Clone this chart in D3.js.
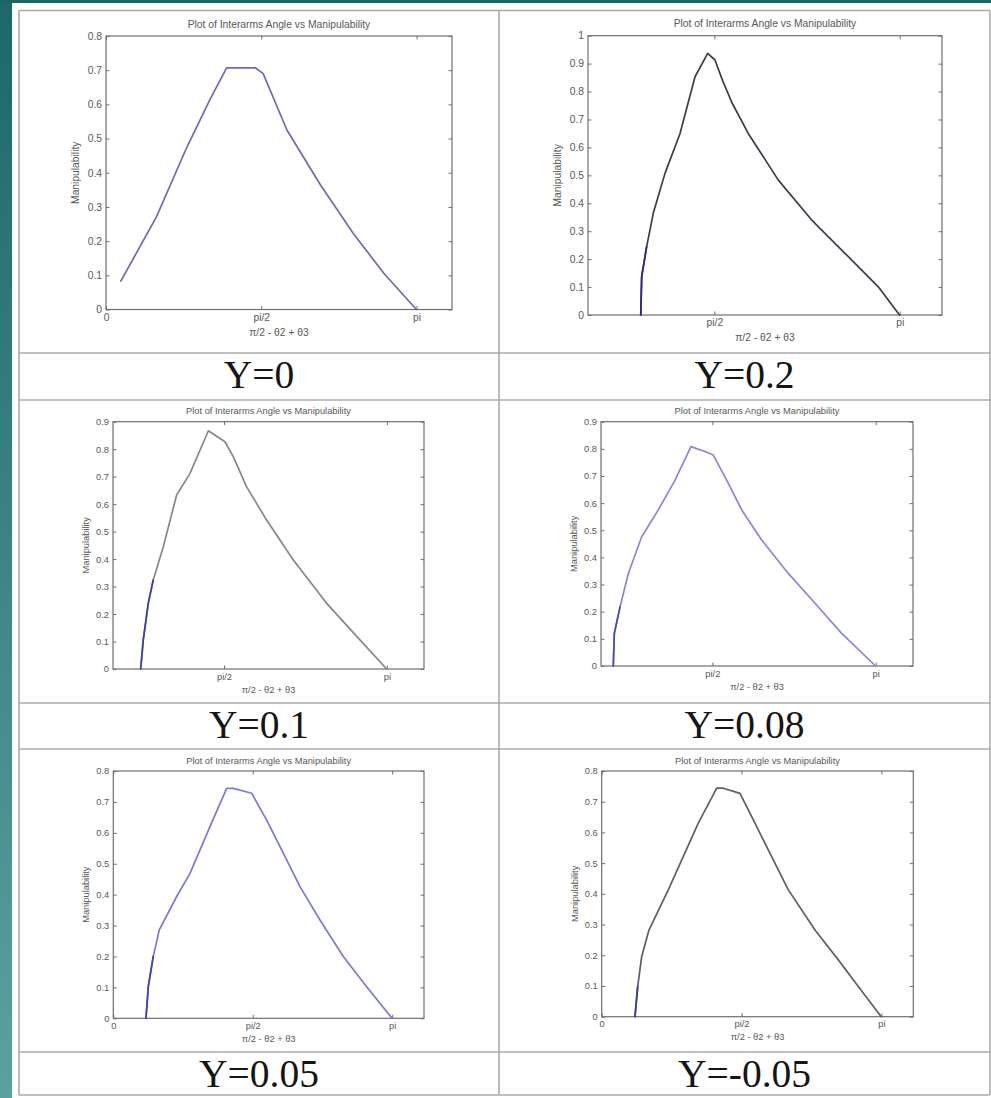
<!DOCTYPE html>
<html>
<head>
<meta charset="utf-8">
<script src="https://cdn.jsdelivr.net/npm/d3@7"></script>
<style>
  html, body { margin: 0; padding: 0; background: #ffffff; }
  svg { display: block; }
</style>
</head>
<body>
<svg id="sheet" width="991" height="1098"></svg>
<script>
// ---- data: inter-arm angle (rad) vs manipulability, one curve per Y offset ----
const panelLabels = ["Y=0", "Y=0.2", "Y=0.1", "Y=0.08", "Y=0.05", "Y=-0.05"];

const angle_Y0 = [0.15, 0.51, 0.82, 1.05, 1.22, 1.51, 1.59, 1.83, 2.17, 2.50, 2.81, 3.14];
const manip_Y0 = [0.083, 0.271, 0.476, 0.613, 0.707, 0.707, 0.69, 0.525, 0.364, 0.223, 0.106, 0.0];

const angle_Y020 = [0.947, 0.955, 0.997, 1.053, 1.153, 1.28, 1.407, 1.514, 1.576, 1.64, 1.72, 1.858, 2.113, 2.396, 2.678, 2.96, 3.14];
const manip_Y020 = [0, 0.137, 0.245, 0.364, 0.508, 0.65, 0.853, 0.937, 0.913, 0.84, 0.76, 0.65, 0.483, 0.34, 0.221, 0.101, 0];

const angle_Y010 = [0.767, 0.792, 0.84, 0.888, 0.985, 1.114, 1.243, 1.42, 1.58, 1.66, 1.789, 1.982, 2.239, 2.561, 2.882, 3.14];
const manip_Y010 = [0, 0.106, 0.239, 0.324, 0.445, 0.633, 0.712, 0.867, 0.827, 0.773, 0.663, 0.542, 0.397, 0.239, 0.106, 0];

const angle_Y008 = [0.618, 0.628, 0.683, 0.763, 0.891, 1.051, 1.212, 1.365, 1.5, 1.58, 1.724, 1.853, 2.045, 2.301, 2.558, 2.814, 3.14];
const manip_Y008 = [0, 0.12, 0.218, 0.341, 0.476, 0.575, 0.685, 0.808, 0.79, 0.777, 0.673, 0.575, 0.464, 0.341, 0.231, 0.12, 0];

const angle_Y005 = [0.368, 0.394, 0.45, 0.518, 0.714, 0.864, 1.089, 1.277, 1.352, 1.559, 1.728, 1.915, 2.103, 2.328, 2.591, 2.854, 3.14];
const manip_Y005 = [0, 0.102, 0.2, 0.286, 0.394, 0.469, 0.62, 0.744, 0.744, 0.728, 0.641, 0.534, 0.426, 0.318, 0.2, 0.102, 0];

const angle_Ym005 = [0.374, 0.404, 0.449, 0.531, 0.748, 0.898, 1.085, 1.292, 1.366, 1.553, 1.722, 1.909, 2.096, 2.396, 2.658, 2.882, 3.14];
const manip_Ym005 = [0, 0.098, 0.195, 0.282, 0.413, 0.51, 0.63, 0.744, 0.744, 0.727, 0.63, 0.521, 0.413, 0.282, 0.185, 0.098, 0];

// axis limits per panel
const xLimits = [[0, 3.5], [0.5, 3.5], [0.5, 3.5], [0.5, 3.5], [0, 3.5], [0, 3.5]];
const yMaxima = [0.8, 1.0, 0.9, 0.9, 0.8, 0.8];

// x tick positions and their labels
const xTickValues = [0, Math.PI / 2, Math.PI];
const xTickLabels = ["0", "pi/2", "pi"];

const titleText = "Plot of Interarms Angle vs Manipulability";
const xLabelText = "\u03C0/2 - \u03B82 + \u03B83";
const yLabelText = "Manipulability";

const seriesAngles = [angle_Y0, angle_Y020, angle_Y010, angle_Y008, angle_Y005, angle_Ym005];
const seriesManip = [manip_Y0, manip_Y020, manip_Y010, manip_Y008, manip_Y005, manip_Ym005];

// ---- presentation ----
const lineColors = ["#6c6cb0", "#3c3c4a", "#86868f", "#8888d6", "#7a7ad6", "#5e5e6a"];
const accentColors = [null, "#2a2a86", "#3c3cb4", "#4a4ab8", "#4040b0", "#3a3a9a"];
const accentCounts = [0, 3, 4, 3, 3, 2];

// plot-box geometry of each panel in the table
const plotBoxes = [
  { l: 106, r: 452, t: 36, b: 309.5, fs: 10.3 },
  { l: 588, r: 942, t: 35.7, b: 315, fs: 10.3 },
  { l: 113, r: 424, t: 421.7, b: 669, fs: 9.3 },
  { l: 601, r: 913, t: 421.7, b: 666, fs: 9.3 },
  { l: 113.3, r: 424, t: 771, b: 1018.3, fs: 9.3 },
  { l: 601.7, r: 913.3, t: 771, b: 1016.7, fs: 9.3 }
];

const svg = d3.select("#sheet");
const W = 991, H = 1098;
const sansFamily = "'Liberation Sans', Arial, Helvetica, sans-serif";

// teal slide background
const defs = svg.append("defs");
const grad = defs.append("linearGradient").attr("id", "tealStrip")
  .attr("x1", 0).attr("y1", 0).attr("x2", 0).attr("y2", 1);
grad.append("stop").attr("offset", "0%").attr("stop-color", "#1c6868");
grad.append("stop").attr("offset", "100%").attr("stop-color", "#5da0a0");

svg.append("rect").attr("x", 0).attr("y", 0).attr("width", W).attr("height", H).attr("fill", "url(#tealStrip)");
svg.append("rect").attr("x", 0).attr("y", 0).attr("width", W).attr("height", 3).attr("fill", "#1b6666");
svg.append("rect").attr("x", 12).attr("y", 3).attr("width", W - 12).attr("height", H - 3).attr("fill", "#ffffff");

// table grid
const tableLeft = 19, tableRight = 990, colSplit = 499;
const rowLines = [10.5, 353, 400, 703, 749, 1052, 1095];
const grid = svg.append("g").attr("stroke", "#ababab").attr("stroke-width", 1.6).attr("fill", "none");
rowLines.forEach(y => grid.append("line").attr("x1", tableLeft).attr("x2", tableRight).attr("y1", y).attr("y2", y));
[tableLeft, colSplit, tableRight].forEach(x => grid.append("line").attr("x1", x).attr("x2", x).attr("y1", rowLines[0]).attr("y2", rowLines[rowLines.length - 1]));

// caption cells under each chart row
const labelRows = [[353, 400], [703, 749], [1052, 1095]];
const colCenters = [(tableLeft + colSplit) / 2, (colSplit + tableRight) / 2];
panelLabels.forEach((txt, i) => {
  const row = Math.floor(i / 2), col = i % 2;
  svg.append("text")
    .attr("x", colCenters[col])
    .attr("y", labelRows[row][0] + 34.5)
    .attr("text-anchor", "middle")
    .attr("font-family", "'Liberation Serif', 'Times New Roman', serif")
    .attr("font-size", 39.5)
    .attr("fill", "#151515")
    .text(txt);
});

// one MATLAB-style figure per panel
const axisColor = "#6f6f6f", textColor = "#585858";
plotBoxes.forEach((box, i) => {
  const fs = box.fs;
  const x = d3.scaleLinear().domain(xLimits[i]).range([box.l, box.r]);
  const y = d3.scaleLinear().domain([0, yMaxima[i]]).range([box.b, box.t]);
  const g = svg.append("g").attr("font-family", sansFamily);

  const yTicks = d3.range(0, Math.round(yMaxima[i] * 10) + 1).map(k => k / 10);
  const xTicks = xTickValues.filter(v => v >= xLimits[i][0] - 1e-9);
  const fmtY = d => String(+d.toFixed(1));
  const fmtX = d => xTickLabels[xTickValues.indexOf(d)];

  const styleAxis = sel => {
    sel.attr("font-family", sansFamily).attr("font-size", fs);
    sel.select(".domain").remove();
    sel.selectAll(".tick line").attr("stroke", axisColor).attr("stroke-width", 1);
    sel.selectAll(".tick text").attr("fill", textColor);
  };

  g.append("g").attr("transform", `translate(${box.l},0)`)
    .call(d3.axisLeft(y).tickValues(yTicks).tickFormat(fmtY).tickSizeInner(-3.5).tickSizeOuter(0).tickPadding(4))
    .call(styleAxis);
  g.append("g").attr("transform", `translate(${box.r},0)`)
    .call(d3.axisRight(y).tickValues(yTicks).tickFormat("").tickSizeInner(-3.5).tickSizeOuter(0))
    .call(styleAxis);
  g.append("g").attr("transform", `translate(0,${box.b})`)
    .call(d3.axisBottom(x).tickValues(xTicks).tickFormat(fmtX).tickSizeInner(-3.5).tickSizeOuter(0).tickPadding(4))
    .call(styleAxis);
  g.append("g").attr("transform", `translate(0,${box.t})`)
    .call(d3.axisTop(x).tickValues(xTicks).tickFormat("").tickSizeInner(-3.5).tickSizeOuter(0))
    .call(styleAxis);

  // axes box
  g.append("rect")
    .attr("x", box.l).attr("y", box.t)
    .attr("width", box.r - box.l).attr("height", box.b - box.t)
    .attr("fill", "none").attr("stroke", axisColor).attr("stroke-width", 1.2);

  // title and axis labels
  g.append("text").attr("x", (box.l + box.r) / 2).attr("y", box.t - 0.8 * fs)
    .attr("text-anchor", "middle").attr("font-size", fs).attr("fill", textColor).text(titleText);
  g.append("text").attr("x", (box.l + box.r) / 2).attr("y", box.b + 2.55 * fs)
    .attr("text-anchor", "middle").attr("font-size", fs).attr("fill", textColor).text(xLabelText);
  const ylx = box.l - 2.95 * fs, yly = (box.t + box.b) / 2;
  g.append("text").attr("transform", `translate(${ylx},${yly}) rotate(-90)`)
    .attr("text-anchor", "middle").attr("dy", "0.35em")
    .attr("font-size", fs).attr("fill", textColor).text(yLabelText);

  // manipulability curve
  const pts = seriesAngles[i].map((a, k) => [a, seriesManip[i][k]]);
  const line = d3.line().x(d => x(d[0])).y(d => y(d[1]));
  g.append("path").datum(pts)
    .attr("d", line).attr("fill", "none")
    .attr("stroke", lineColors[i]).attr("stroke-width", 1.7)
    .attr("stroke-linejoin", "round").attr("stroke-linecap", "round");
  if (accentCounts[i] > 1) {
    g.append("path").datum(pts.slice(0, accentCounts[i]))
      .attr("d", line).attr("fill", "none")
      .attr("stroke", accentColors[i]).attr("stroke-width", 1.7)
      .attr("stroke-linecap", "round");
  }
});
</script>
</body>
</html>
